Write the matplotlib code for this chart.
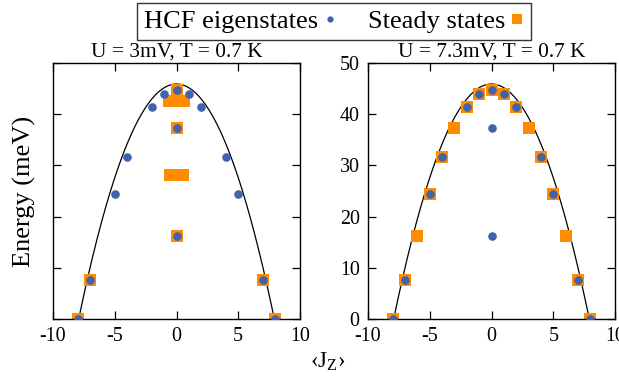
import numpy as np
import matplotlib
matplotlib.use("Agg")
import matplotlib.pyplot as plt

plt.rcParams['font.family'] = ['Liberation Serif', 'DejaVu Serif']
plt.rcParams['mathtext.fontset'] = 'custom'
plt.rcParams['mathtext.rm'] = 'Liberation Serif'
plt.rcParams['mathtext.it'] = 'Liberation Serif:italic'
plt.rcParams['axes.unicode_minus'] = False

AZUL = '#4163ad'
NARANJA = '#ff8c00'

# autoestados HCF (iguales en los dos paneles)
jz_hcf = [-8, -7, -5, -4, -2, -1, 0, 1, 2, 4, 5, 7, 8, 0, 0]
e_hcf = [0, 7.7, 24.5, 31.6, 41.4, 43.9, 44.7, 43.9, 41.4, 31.6, 24.5, 7.7, 0, 37.4, 16.2]

# estados estacionarios, U = 3 mV
jz_est1 = [-8, -7, 7, 8, 0, -0.6, 0, 0.6, 0, -0.5, 0, 0.5, 0]
e_est1 = [0, 7.7, 7.7, 0, 44.7, 42.6, 42.6, 42.6, 37.4, 28.1, 28.1, 28.1, 16.2]

# estados estacionarios, U = 7.3 mV
jz_est2 = [-8, -7, -6, -5, -4, -3, -2, -1, 0, 1, 2, 3, 4, 5, 6, 7, 8]
e_est2 = [0, 7.7, 16.2, 24.5, 31.6, 37.4, 41.4, 43.9, 44.7, 43.9, 41.4, 37.4, 31.6, 24.5, 16.2, 7.7, 0]

# parabola clasica E0*(1 - (Jz/Jmax)^2)
E0 = 45.9
JMAX = 7.92

titulos = ['U = 3mV, T = 0.7 K', 'U = 7.3mV, T = 0.7 K']

fig = plt.figure(figsize=(6.19, 3.83), dpi=100)
gra1 = fig.add_axes([53/619, 64/383, 247/619, 256/383])
gra2 = fig.add_axes([368/619, 64/383, 247/619, 256/383])

jj = np.linspace(-JMAX, JMAX, 300)
for gra, jz_e, e_e, tit in [(gra1, jz_est1, e_est1, titulos[0]),
                            (gra2, jz_est2, e_est2, titulos[1])]:
    gra.plot(jj, E0 * (1 - (jj / JMAX) ** 2), color='black', lw=0.9, zorder=1)
    gra.plot(jz_e, e_e, 's', color=NARANJA, ms=8.4, mew=0, zorder=2,
             label='Steady states')
    gra.plot(jz_hcf, e_hcf, 'o', color=AZUL, ms=6.2, mew=0, zorder=3,
             label='HCF eigenstates')
    gra.set_xlim(-10, 10)
    gra.set_ylim(0, 50)
    gra.set_xticks([-10, -5, 0, 5, 10])
    gra.set_yticks([0, 10, 20, 30, 40, 50])
    gra.tick_params(direction='in', top=True, right=True, length=5.5,
                    width=0.9, labelsize=14.4, pad=6)
    for s in gra.spines.values():
        s.set_linewidth(1.0)
    gra.set_title(tit, fontsize=15.4, pad=5)

gra1.set_yticklabels([])
gra1.set_ylabel('Energy (meV)', fontsize=19)
gra1.yaxis.set_label_coords(-17/247, 0.5)
fig.text(328/619, 1 - 368/383, '‹J$_\\mathrm{Z}$›', fontsize=16.5, ha='center', va='baseline')

h, l = gra2.get_legend_handles_labels()
leg = fig.legend([h[1], h[0]], [l[1], l[0]], loc='upper center',
                 bbox_to_anchor=(334/619, 1 - 3/383), ncol=2, markerfirst=False,
                 fontsize=19, frameon=True, fancybox=False, edgecolor='black',
                 borderpad=0.25, columnspacing=1.2, handlelength=0.5,
                 handletextpad=0.2, borderaxespad=0)
leg.get_frame().set_linewidth(1.0)
# marcadores de la leyenda mas pequenos
leg.legend_handles[0].set_markersize(4.5)
leg.legend_handles[1].set_markersize(7)

plt.savefig("out.png", dpi=100)
